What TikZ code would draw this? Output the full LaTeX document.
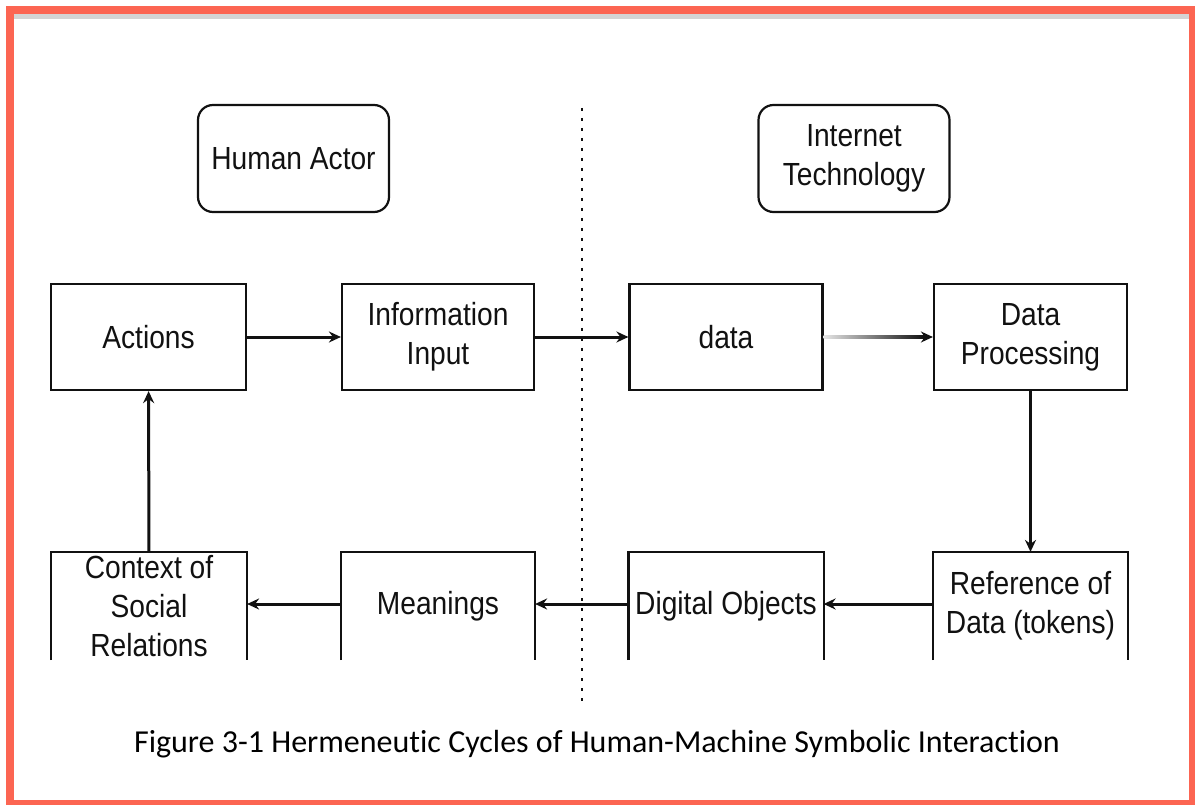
\documentclass[tikz,border=0pt]{standalone}
\usepackage{fontspec}
\usetikzlibrary{arrows.meta,calc}
\newfontfamily\boxfont{Liberation Sans}[FakeStretch=0.88]
\newfontfamily\capfont{Carlito}[Ligatures=NoCommon]
\definecolor{framered}{RGB}{252,101,82}
\definecolor{framegrey}{RGB}{212,212,212}
\definecolor{ink}{RGB}{17,17,17}

\tikzset{
  box/.style={draw=ink, line width=2.2pt, minimum width=193pt, minimum height=106pt,
    inner sep=0pt, align=center, text=ink, font=\boxfont\fontsize{32}{39}\selectfont},
  roundbox/.style={box, rounded corners=15pt, minimum width=191pt, minimum height=107pt},
  openbox/.style={box, draw=none},
  arr/.style={draw=ink, line width=3pt, -{Stealth[length=12pt,width=11pt,inset=4pt]}},
  divider/.style={draw=ink, line width=2.4pt, dash pattern=on 2.6pt off 7.4pt},
}

\begin{document}
\begin{tikzpicture}[x=1pt, y=-1pt]
  \useasboundingbox (0,0) rectangle (1195,805);

  % frame
  \fill[framegrey] (14,14) rectangle (1189,19);
  \draw[framered, line width=8pt] (10,10) rectangle (1193,804);

  % column divider
  \coordinate (dtop) at (582,108);
  \coordinate (dbot) at (582,704);
  \draw[divider] (dtop) -- (dbot);

  % column headings
  \node[roundbox] (human) at (293.5,158.5) {Human Actor};
  \node[roundbox] (inet) at (854,158.5) {Internet\\Technology};

  % upper row
  \node[box, minimum width=195pt] (actions) at (148.5,337) {Actions};
  \node[box, minimum width=192pt] (info) at (438,337) {Information\\Input};
  \node[box] (data) at (726,337) {data};
  \node[box] (proc) at (1030.5,337) {Data\\Processing};

  % lower row (boxes open at the bottom)
  \node[openbox, minimum width=194pt] (context) at (149,606) {Context of\\Social\\Relations};
  \node[openbox, minimum width=192pt] (mean) at (438,606) {Meanings};
  \node[openbox] (digital) at (726,606) {Digital Objects};
  \node[openbox] (ref) at (1030.5,606) {Reference of\\Data (tokens)};
  \foreach \n in {context,mean,digital,ref}
    \draw[ink, line width=2.2pt] (\n.south west) -- (\n.north west) -- (\n.north east) -- (\n.south east);

  % connectors
  \draw[arr] (actions) -- (info);
  \draw[arr] (info) -- (data);
  \shade[left color=framegrey!60, right color=ink]
    ($(data.east)+(0,-1.5)$) rectangle ($(proc.west)+(-9,1.5)$);
  \draw[arr] ($(proc.west)+(-10,0)$) -- (proc.west);
  \draw[arr] (proc) -- (ref);
  \draw[arr] ($(ref.west)+(0,-2)$) -- ($(digital.east)+(0,-2)$);
  \draw[arr] ($(digital.west)+(0,-2)$) -- ($(mean.east)+(0,-2)$);
  \draw[arr] ($(mean.west)+(0,-2)$) -- ($(context.east)+(0,-2)$);
  \draw[arr] (context) -- (actions);

  % caption
  \node[font=\capfont\fontsize{32}{38}\selectfont, text=black] (caption) at (597,744)
    {Figure 3-1 Hermeneutic Cycles of Human-Machine Symbolic Interaction};
\end{tikzpicture}
\end{document}
